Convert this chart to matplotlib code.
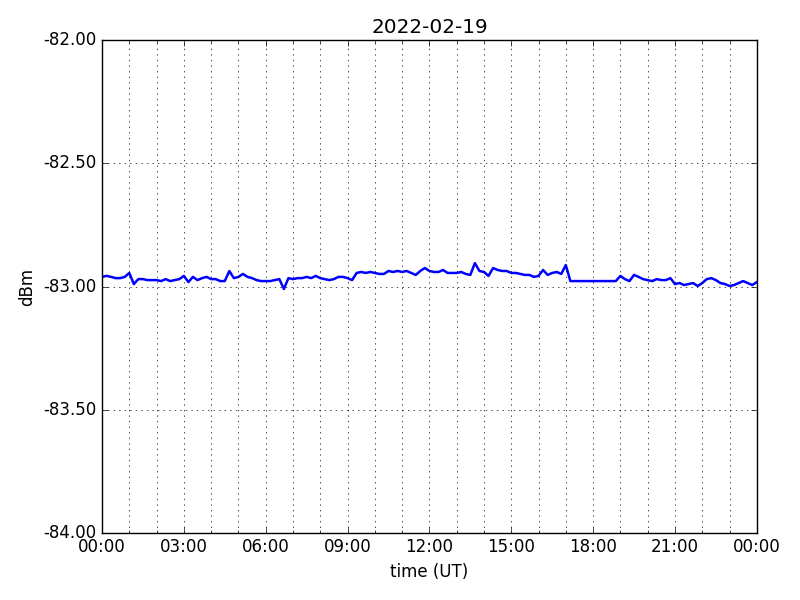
import numpy as np
import matplotlib
matplotlib.use('Agg')
import matplotlib.pyplot as plt
import matplotlib.dates as mdates
from matplotlib.ticker import FormatStrFormatter, MultipleLocator
from datetime import datetime, timedelta

plt.style.use('classic')

day = datetime(2022, 2, 19)

# 10 minute samples, 00:00 -> 17:10
seg1_values = [
    -82.961, -82.957, -82.961, -82.966, -82.966, -82.961,
    -82.945, -82.990, -82.970, -82.970, -82.974, -82.974,
    -82.974, -82.978, -82.970, -82.978, -82.974, -82.970,
    -82.957, -82.982, -82.961, -82.974, -82.966, -82.961,
    -82.970, -82.970, -82.978, -82.978, -82.937, -82.966,
    -82.961, -82.949, -82.961, -82.966, -82.974, -82.978,
    -82.978, -82.978, -82.974, -82.970, -83.010, -82.966,
    -82.970, -82.966, -82.966, -82.961, -82.966, -82.957,
    -82.966, -82.970, -82.974, -82.970, -82.961, -82.961,
    -82.966, -82.974, -82.945, -82.941, -82.945, -82.941,
    -82.945, -82.949, -82.949, -82.937, -82.941, -82.937,
    -82.941, -82.937, -82.945, -82.953, -82.937, -82.925,
    -82.937, -82.941, -82.941, -82.933, -82.945, -82.945,
    -82.945, -82.941, -82.949, -82.953, -82.905, -82.937,
    -82.941, -82.957, -82.925, -82.933, -82.937, -82.937,
    -82.945, -82.945, -82.949, -82.953, -82.953, -82.961,
    -82.957, -82.933, -82.953, -82.945, -82.941, -82.949,
    -82.913, -82.978,
]

# 10 minute samples, 18:50 -> 24:00 (no data in between)
seg2_values = [
    -82.978,
    -82.957, -82.970, -82.978, -82.953, -82.961, -82.970,
    -82.974, -82.978, -82.970, -82.974, -82.974, -82.966,
    -82.990, -82.986, -82.994, -82.990, -82.986, -82.998,
    -82.986, -82.970, -82.966, -82.974, -82.986, -82.990,
    -82.998, -82.994, -82.986, -82.978, -82.986, -82.994,
    -82.982,
]

seg1_times = [day + timedelta(minutes=10 * i) for i in range(len(seg1_values))]
seg2_start = day + timedelta(hours=18, minutes=50)
seg2_times = [seg2_start + timedelta(minutes=10 * i) for i in range(len(seg2_values))]

times = seg1_times + seg2_times
values = seg1_values + seg2_values

fig = plt.figure(figsize=(8, 6), dpi=100)
ax = fig.add_subplot(111)
fig.subplots_adjust(left=0.1275, right=0.946, bottom=0.112, top=0.933)

ax.plot(times, values, color='b', linewidth=1.8)

ax.set_xlim(day, day + timedelta(days=1))
ax.set_ylim(-84, -82)
ax.xaxis.set_major_locator(mdates.HourLocator(byhour=range(0, 24, 3)))
ax.xaxis.set_minor_locator(mdates.HourLocator())
ax.xaxis.set_major_formatter(mdates.DateFormatter('%H:%M'))
ax.yaxis.set_major_locator(MultipleLocator(0.5))
ax.yaxis.set_major_formatter(FormatStrFormatter('%.2f'))

ax.grid(True, which='both', axis='x')
ax.grid(True, which='major', axis='y')

ax.set_title('2022-02-19')
ax.set_xlabel('time (UT)')
ax.set_ylabel('dBm')

plt.savefig('out.png', dpi=100)
